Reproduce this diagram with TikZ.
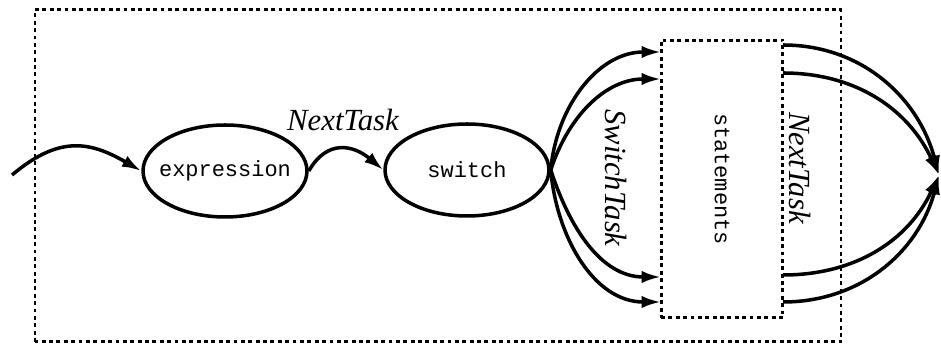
\documentclass[tikz,border=0pt]{standalone}
\usepackage{fontspec}
\setmainfont{Liberation Serif}
\setmonofont{Liberation Mono}
\usetikzlibrary{shapes.geometric,arrows.meta}
\tikzset{
  mono/.style={font=\fontsize{12.5}{14}\selectfont\ttfamily},
  task/.style={ellipse,draw,line width=2pt,inner sep=0pt,minimum width=3.28cm,minimum height=1.84cm},
  dots/.style={draw,line width=1.7pt,dash pattern=on 2.2pt off 2pt},
  flow/.style={line width=2pt,-{Latex[length=11pt,width=7pt]}},
  lbl/.style={font=\fontsize{17.5}{20}\selectfont\itshape}
}
\begin{document}
\begin{tikzpicture}[x=0.02cm,y=0.02cm]
    \useasboundingbox (0,0) rectangle (941,347);
    \draw[dots] (35,5) rectangle (841,337);
    \node[task,label={[mono]center:expression}] (expr) at (225,176) {};
    \node[task,label={[mono]center:switch}] (switch) at (467,177) {};
    \node[dots,mono,minimum width=2.44cm,minimum height=5.56cm] (stmts) at (722,168) {\rotatebox{-90}{statements}};
    \node[lbl] (next) at (343,227) {NextTask};
    \node[lbl,rotate=-90] (swtask) at (616,169) {SwitchTask};
    \node[lbl,rotate=-90] (next2) at (800,179) {NextTask};
    \coordinate (start) at (12,172);
    \coordinate (exit) at (939,172);
    \coordinate (in1) at (661,295);
    \coordinate (in2) at (661,268);
    \coordinate (in3) at (661,70);
    \coordinate (in4) at (661,45);
    \coordinate (out1) at (783,302);
    \coordinate (out2) at (783,274);
    \coordinate (out3) at (783,72);
    \coordinate (out4) at (783,45);
    \draw[flow] (start) to[out=40,in=150,looseness=1.2] (expr.west);
    \draw[flow] (expr.east) to[out=60,in=140,looseness=1.3] (switch.west);
    \draw[flow] (switch.east) to[out=85,in=180] (in1);
    \draw[flow] (switch.east) to[out=72,in=180] (in2);
    \draw[flow] (switch.east) to[out=-72,in=180] (in3);
    \draw[flow] (switch.east) to[out=-85,in=180] (in4);
    \draw[flow] (out1) to[out=0,in=105] (exit);
    \draw[flow] (out2) to[out=0,in=115] (exit);
    \draw[flow] (out3) to[out=0,in=-115] (exit);
    \draw[flow] (out4) to[out=0,in=-105] (exit);
\end{tikzpicture}
\end{document}
